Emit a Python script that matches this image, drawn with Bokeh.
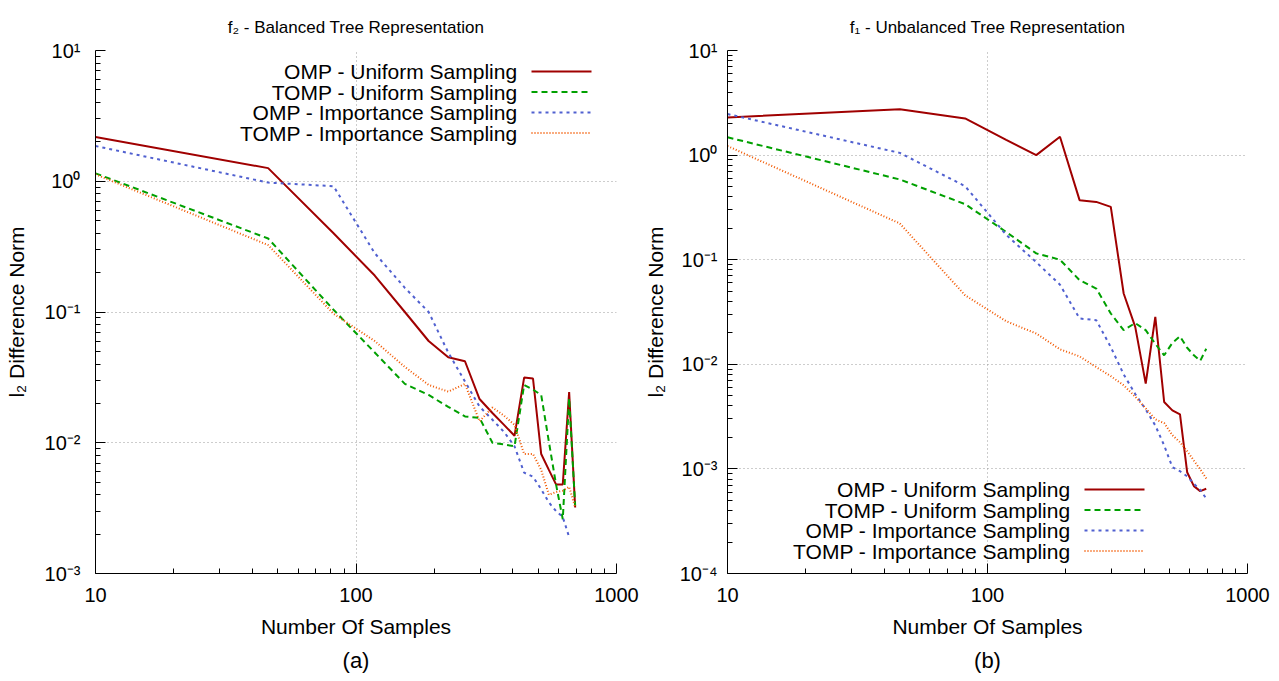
from bokeh.plotting import figure
from bokeh.layouts import row
from bokeh.models import Range1d, FixedTicker, Label, Arrow, Title
from bokeh.embed import file_html
from bokeh.resources import INLINE

# ---------------- data ----------------
samples = [10, 46, 82, 118, 154, 190, 226, 262, 298, 334, 370, 406, 442, 478,
           514, 550, 586, 622, 658, 694]

series_names = ["OMP - Uniform Sampling", "TOMP - Uniform Sampling",
                "OMP - Importance Sampling", "TOMP - Importance Sampling"]

# (a) f2 - Balanced tree
a_omp_uniform = [2.18, 1.26, 0.40, 0.19, 0.10, 0.060, 0.045, 0.042, 0.0216, 0.0169,
                 0.0137, 0.0113, 0.0315, 0.031, 0.0082, 0.0062, 0.0048, 0.0048, 0.0244, 0.0032]
a_tomp_uniform = [1.15, 0.365, 0.104, 0.049, 0.0282, 0.0232, 0.0188, 0.0159, 0.0155, 0.0100,
                  0.0097, 0.0094, 0.0277, 0.0255, 0.0232, 0.0102, 0.0048, 0.0026, 0.0219, 0.0033]
a_omp_importance = [1.86, 0.977, 0.916, 0.282, 0.153, 0.100, 0.049, 0.0294, 0.0189, 0.015,
                    0.0121, 0.0094, 0.0059, 0.0055, 0.0044, 0.0035, 0.0030, 0.0027, 0.0019]
a_tomp_importance = [1.13, 0.325, 0.097, 0.060, 0.038, 0.0277, 0.0246, 0.0282, 0.0146, 0.0186,
                     0.0161, 0.0137, 0.0082, 0.0082, 0.0062, 0.0040, 0.0042, 0.0043, 0.0046, 0.0032]

# (b) f1 - Unbalanced tree
b_omp_uniform = [2.29, 2.75, 2.24, 1.40, 1.0, 1.50, 0.371, 0.357, 0.32, 0.0475,
                 0.0228, 0.00654, 0.0284, 0.00436, 0.00363, 0.00332, 0.00093, 0.000684, 0.000613, 0.000646]
b_tomp_uniform = [1.48, 0.585, 0.34, 0.184, 0.115, 0.100, 0.0637, 0.053, 0.0306, 0.0212,
                  0.0248, 0.0212, 0.0157, 0.0122, 0.016, 0.0185, 0.0144, 0.0122, 0.0108, 0.0141]
b_omp_importance = [2.47, 1.05, 0.505, 0.173, 0.0946, 0.0577, 0.0274, 0.0264, 0.0146, 0.0080,
                    0.0052, 0.0037, 0.0026, 0.00168, 0.00104, 0.00095, 0.00085, 0.00072, 0.00063, 0.00052]
b_tomp_importance = [1.22, 0.222, 0.0457, 0.0258, 0.0197, 0.0139, 0.0119, 0.0094, 0.0077, 0.0063,
                     0.0049, 0.0038, 0.00298, 0.00274, 0.0021, 0.0018, 0.00148, 0.0012, 0.00099, 0.00081]

x_major = [10, 100, 1000]
x_tick_labels = ["10", "100", "1000"]

# ---------------- styles ----------------
FONT = "Liberation Sans"
colors = ["#a00000", "#00a000", "#5060d0", "#f25900"]
dashes = ["solid", "6 4", "3 4", "1 2"]
widths = [2, 2, 2, 2]

SUP = {"-": "\u207b", "0": "\u2070", "1": "\u00b9", "2": "\u00b2", "3": "\u00b3",
       "4": "\u2074", "5": "\u2075", "6": "\u2076", "7": "\u2077", "8": "\u2078", "9": "\u2079"}


def sup(n):
    return "".join(SUP[c] for c in str(n))


def make_panel(title, series, lo_exp, sub, width, borders, legend_cfg, ystand):
    bl, br, bt, bb = borders
    p = figure(width=width, height=681, x_axis_type="log", y_axis_type="log",
               x_range=Range1d(10, 1000), y_range=Range1d(10.0 ** lo_exp, 10.0),
               output_backend="svg", toolbar_location=None,
               min_border_left=bl, min_border_right=br,
               min_border_top=bt, min_border_bottom=bb)
    p.outline_line_color = None
    p.background_fill_color = "white"
    p.border_fill_color = "white"

    p.title.text = title
    p.title.align = "center"
    p.title.vertical_align = "top"
    p.title.text_font = FONT
    p.title.text_font_size = "17px"
    p.title.text_font_style = "normal"
    p.title.text_color = "black"
    p.title.standoff = 24

    exps = list(range(lo_exp, 2))
    y_major = [10.0 ** e for e in exps]
    y_minor = [k * 10.0 ** e for e in exps[:-1] for k in range(2, 10)]
    x_minor = [k * 10.0 ** e for e in (1, 2) for k in range(2, 10)]
    p.xaxis.ticker = FixedTicker(ticks=x_major, minor_ticks=x_minor)
    p.yaxis.ticker = FixedTicker(ticks=y_major, minor_ticks=y_minor)
    p.xaxis.major_label_overrides = dict(zip(x_major, x_tick_labels))
    p.yaxis.major_label_overrides = {v: "10" + sup(e) for v, e in zip(y_major, exps)}

    for ax in (p.xaxis[0], p.yaxis[0]):
        ax.axis_line_color = "black"
        ax.major_tick_line_color = "black"
        ax.minor_tick_line_color = "black"
        ax.major_tick_in = 10
        ax.major_tick_out = 0
        ax.minor_tick_in = 5
        ax.minor_tick_out = 0
        ax.major_label_text_font = FONT
        ax.major_label_text_font_size = "20px"
        ax.major_label_text_color = "black"
        ax.axis_label_text_font = FONT
        ax.axis_label_text_font_size = "21px"
        ax.axis_label_text_font_style = "normal"
        ax.axis_label_text_color = "black"
    p.xaxis.axis_label = "Number Of Samples"
    p.yaxis.axis_label = "l\u2082 Difference Norm"
    p.xaxis.major_label_standoff = 14
    p.xaxis.axis_label_standoff = 10
    p.yaxis.major_label_standoff = ystand[0]
    p.yaxis.axis_label_standoff = ystand[1]

    for g in (p.xgrid[0], p.ygrid[0]):
        g.grid_line_color = "#9a9a9a"
        g.grid_line_dash = "1 3"
        g.grid_line_width = 1

    for vals, c, d, w in zip(series, colors, dashes, widths):
        p.line(x=samples[:len(vals)], y=vals, line_color=c, line_dash=d, line_width=w)

    # gnuplot-style key: text right-aligned, sample to the right
    tx, sx0, sx1, ytop, step = legend_cfg
    for i, name in enumerate(series_names):
        yy = ytop - i * step
        p.add_layout(Label(x=tx, y=yy, x_units="screen", y_units="screen", text=name,
                           text_align="right", text_baseline="middle", text_font=FONT,
                           text_font_size="21px", text_color="black"))
        p.add_layout(Arrow(x_start=sx0, y_start=yy, x_end=sx1, y_end=yy,
                           start_units="screen", end_units="screen", end=None,
                           line_color=colors[i], line_dash=dashes[i], line_width=widths[i]))

    p.add_layout(Title(text=sub, align="center", text_font=FONT, text_font_size="22px",
                       text_font_style="normal", text_color="black", standoff=10), "below")
    return p


p1 = make_panel("f\u2082 - Balanced Tree Representation",
                [a_omp_uniform, a_tomp_uniform, a_omp_importance, a_tomp_importance],
                -3, "(a)", 640, (95, 24, 48, 108), (422, 436, 496, 502, 20.5), (15, 14))
p2 = make_panel("f\u2081 - Unbalanced Tree Representation",
                [b_omp_uniform, b_tomp_uniform, b_omp_importance, b_tomp_importance],
                -4, "(b)", 639, (83, 32, 50, 108), (343, 357, 417, 84, 20.5), (10, 10))

layout = row(p1, p2)
open("out.html", "w").write(file_html(layout, INLINE))
